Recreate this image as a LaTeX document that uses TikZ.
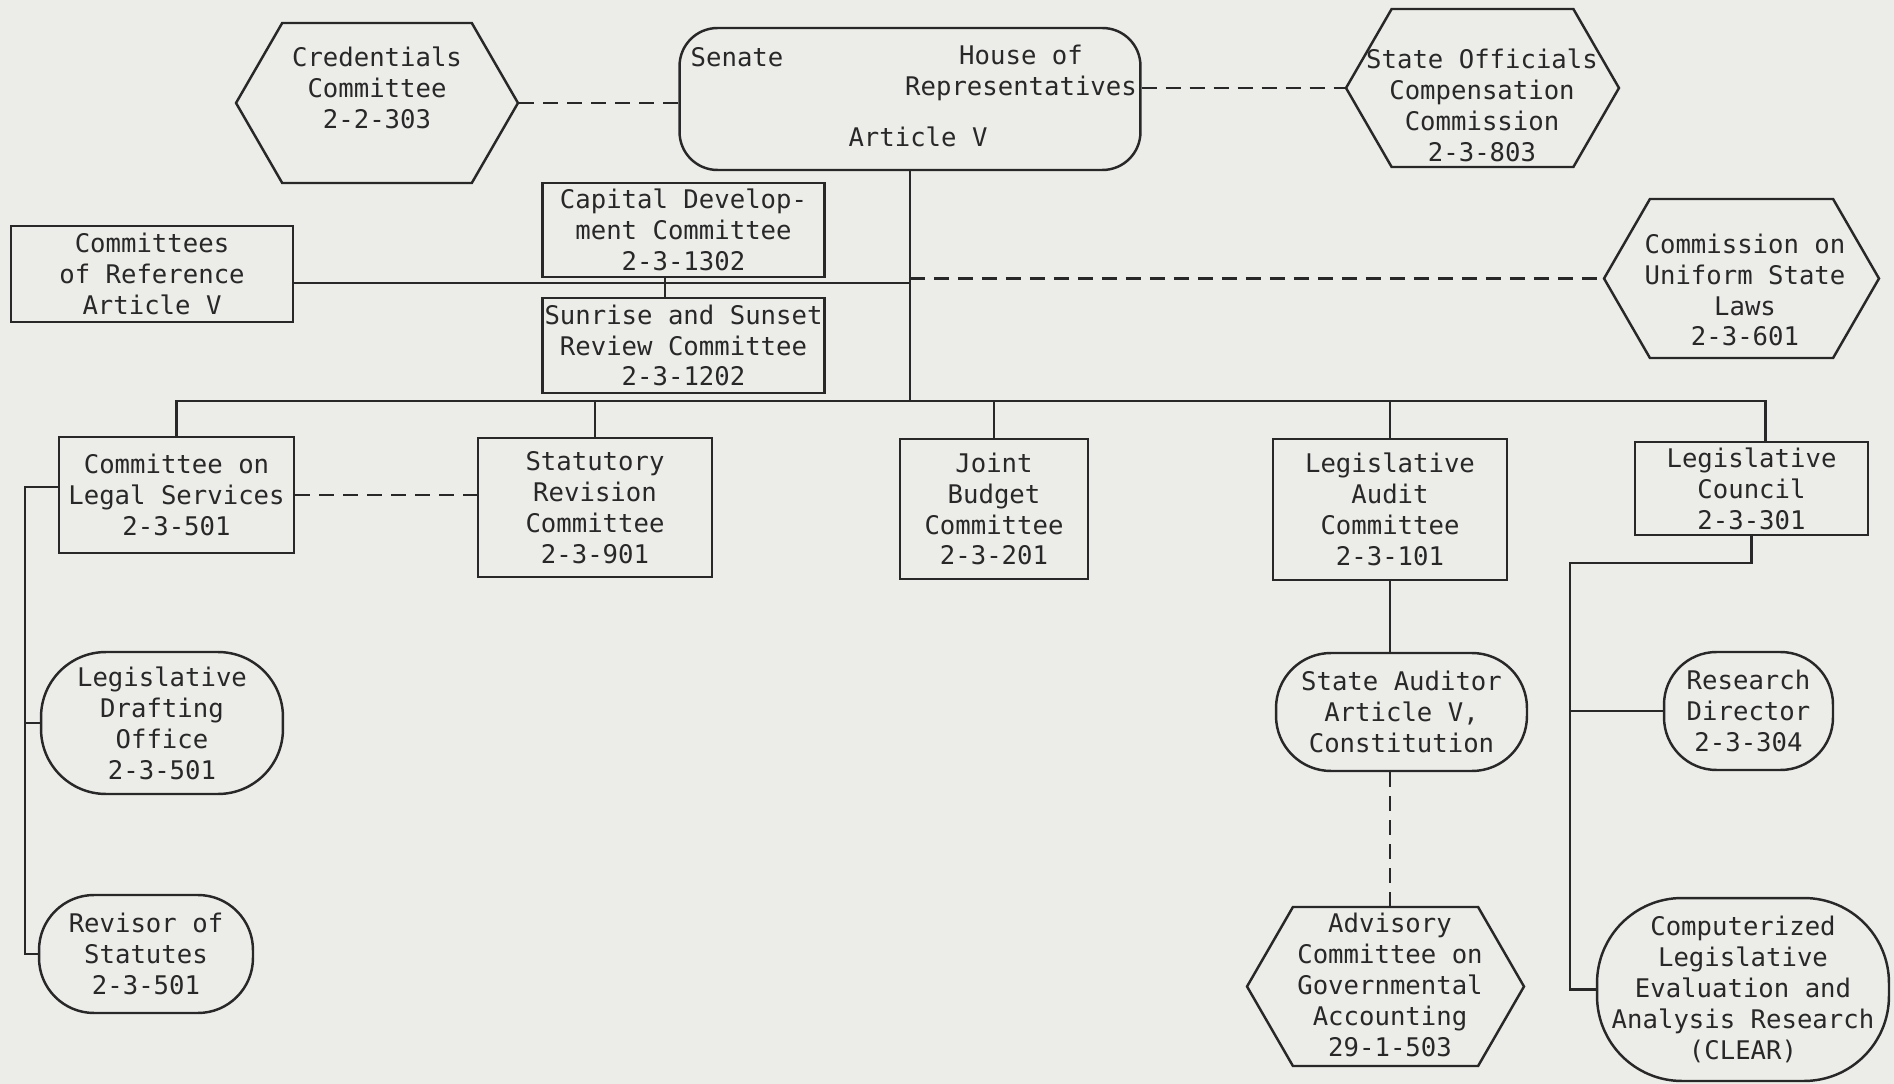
\documentclass[tikz,border=0pt]{standalone}
\usepackage{fontspec}
\newfontfamily\typefont{DejaVu Sans Mono}
\usetikzlibrary{positioning}
\usetikzlibrary{shapes.symbols}
\definecolor{paper}{RGB}{236,236,233}
\definecolor{ink}{RGB}{40,40,40}
\tikzstyle{base}=[x=0.02cm, y=-0.02cm, font=\typefont\fontsize{14.6}{17.6}\selectfont, text=ink]
\tikzstyle{txt}=[align=center, inner sep=0pt]
\tikzstyle{box}=[draw=ink, line width=1.4pt, rectangle, inner sep=0pt, align=center]
\tikzstyle{oval}=[box, rounded corners=1.1cm]
\tikzstyle{hexa}=[draw=ink, line width=1.4pt, signal, signal to=east and west, signal pointer angle=120, inner sep=0pt]
\tikzstyle{link}=[draw=ink, line width=1.4pt]
\tikzstyle{linkd}=[link, dash pattern=on 0.3cm off 0.18cm]

\begin{document}
\begin{tikzpicture}[base]
    \fill[paper] (0,0) rectangle (1894,1084);
    \path[use as bounding box] (0,0) rectangle (1894,1084);

    % general assembly
    \node[box, rounded corners=0.76cm, minimum width=9.22cm, minimum height=2.84cm] (legis) at (910,99) {};
    \node[txt] (senate) at (737,57) {Senate};
    \node[txt] (house) at (1021,72.5) {House of\\Representatives};
    \node[txt] (art5) at (918,137) {Article V};

    \node[hexa, minimum width=5.64cm, minimum height=3.2cm] (cred) at (377,103) {};
    \node[txt] (cred-t) at (377,88) {Credentials\\Committee\\2-2-303};
    \node[hexa, minimum width=5.46cm, minimum height=3.16cm] (soc) at (1482.5,88) {};
    \node[txt] (soc-t) at (1482,105) {State Officials\\Compensation\\Commission\\2-3-803};
    \node[hexa, minimum width=5.5cm, minimum height=3.18cm] (unif) at (1741.5,278.5) {};
    \node[txt] (unif-t) at (1745,290) {Commission on\\Uniform State\\Laws\\2-3-601};

    \node[box, minimum width=5.64cm, minimum height=1.88cm] (capdev) at (683.5,230) {Capital Develop-\\ment Committee\\2-3-1302};
    \node[box, minimum width=5.64cm, minimum height=1.92cm] (cref) at (152,274) {Committees\\of Reference\\Article V};
    \node[box, minimum width=5.64cm, minimum height=1.9cm] (sunrise) at (683.5,345.5) {Sunrise and Sunset\\Review Committee\\2-3-1202};

    % committees on the bus
    \node[box, minimum width=4.7cm, minimum height=2.32cm] (legal) at (176.5,495) {Committee on\\Legal Services\\2-3-501};
    \node[box, minimum width=4.68cm, minimum height=2.78cm] (statrev) at (595,507.5) {Statutory\\Revision\\Committee\\2-3-901};
    \node[box, minimum width=3.76cm, minimum height=2.8cm] (jbc) at (994,509) {Joint\\Budget\\Committee\\2-3-201};
    \node[box, minimum width=4.68cm, minimum height=2.82cm] (audit) at (1390,509.5) {Legislative\\Audit\\Committee\\2-3-101};
    \node[box, minimum width=4.66cm, minimum height=1.86cm] (council) at (1751.5,488.5) {Legislative\\Council\\2-3-301};

    % staff offices
    \node[oval, rounded corners=1.3cm, minimum width=4.84cm, minimum height=2.84cm] (draft) at (162,723) {Legislative\\Drafting\\Office\\2-3-501};
    \node[oval, minimum width=4.28cm, minimum height=2.36cm] (revisor) at (146,954) {Revisor of\\Statutes\\2-3-501};
    \node[oval, minimum width=5.02cm, minimum height=2.36cm] (auditor) at (1401.5,712) {State Auditor\\Article V,\\Constitution};
    \node[hexa, minimum width=5.54cm, minimum height=3.18cm] (advis) at (1385.5,986.5) {};
    \node[txt] (advis-t) at (1390,985) {Advisory\\Committee on\\Governmental\\Accounting\\29-1-503};
    \node[oval, rounded corners=1.05cm, minimum width=3.38cm, minimum height=2.36cm] (resdir) at (1748.5,711) {Research\\Director\\2-3-304};
    \node[oval, rounded corners=1.7cm, minimum width=5.84cm, minimum height=3.66cm] (clear) at (1743,989.5) {Computerized\\Legislative\\Evaluation and\\Analysis Research\\(CLEAR)};

    \coordinate (bus) at (910,401);
    \coordinate (rbus) at (910,283);
    \coordinate (lsp) at (25,487);
    \coordinate (rsp) at (1570,563);
    \coordinate (cdrop) at ([xshift=0.28cm]council.north);

    % solid lines
    \draw[link] (legis.south) -- (bus);
    \draw[link] (cref.east |- rbus) -- (rbus);
    \draw[link] ([xshift=-0.37cm]capdev.south) -- ([xshift=-0.37cm]sunrise.north);
    \draw[link] (legal.north) -- (legal.north |- bus) -- (bus -| cdrop) -- (cdrop);
    \foreach \n in {statrev,jbc,audit}
        \draw[link] (\n.north) -- (\n.north |- bus);
    \draw[link] (lsp -| legal.west) -- (lsp) |- (revisor.west);
    \draw[link] (lsp |- draft.west) -- (draft.west);
    \draw[link] (council.south) |- (rsp) |- (clear.west);
    \draw[link] (rsp |- resdir.west) -- (resdir.west);
    \draw[link] (audit.south) -- (audit.south |- auditor.north);

    % dashed lines
    \draw[linkd] (cred.east) -- (cred.east -| legis.west);
    \draw[linkd] (soc.west -| legis.east) -- (soc.west);
    \draw[linkd] (unif.west -| legis.south) -- (unif.west);
    \draw[linkd] (legal.east) -- (legal.east -| statrev.west);
    \draw[linkd] (auditor.south -| audit.south) -- (advis.north -| audit.south);
\end{tikzpicture}
\end{document}
